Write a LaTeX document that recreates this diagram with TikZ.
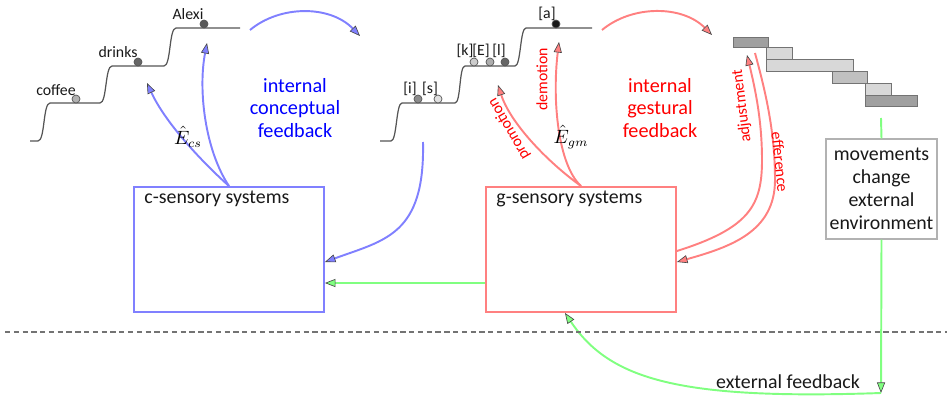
\documentclass[tikz,border=0pt]{standalone}
\usepackage{fontspec}
\setmainfont{Carlito}
\usetikzlibrary{arrows.meta,calc,positioning}
\definecolor{cStroke}{RGB}{128,128,255}
\definecolor{gStroke}{RGB}{255,128,128}
\definecolor{extStroke}{RGB}{128,255,128}
\definecolor{stairInk}{RGB}{85,85,85}
\definecolor{tipInk}{RGB}{70,70,70}
\definecolor{barDark}{RGB}{160,160,160}
\definecolor{barMid}{RGB}{192,192,192}
\definecolor{barLight}{RGB}{216,216,216}
\colorlet{ink}{black!90}
\tikzset{
  cTip/.style={-{Triangle[length=6pt,width=4.6pt,fill=cStroke,color=tipInk,line width=0.35pt]}},
  gTip/.style={-{Triangle[length=6pt,width=4.6pt,fill=gStroke,color=tipInk,line width=0.35pt]}},
  extTip/.style={-{Triangle[length=6pt,width=4.6pt,fill=extStroke,color=tipInk,line width=0.35pt]}},
  cArrow/.style={cTip, draw=cStroke, line width=1.1pt},
  gArrow/.style={gTip, draw=gStroke, line width=1.1pt},
  extArrow/.style={extTip, draw=extStroke, line width=1.1pt},
  extLine/.style={draw=extStroke, line width=1.1pt},
  stair/.style={draw=stairInk, line width=0.7pt},
  dot/.style={circle, draw=stairInk, line width=0.4pt, minimum size=0.16cm, inner sep=0pt},
  word/.style={font=\fontsize{9}{10}\selectfont, text=ink, inner sep=1pt},
  lbl/.style={font=\fontsize{11.3}{12.8}\selectfont, text=ink},
  sensbox/.style={draw, line width=1.1pt, minimum width=3.8cm, minimum height=2.5cm, inner sep=0pt},
  fbtext/.style={font=\fontsize{11.5}{12.8}\selectfont, align=center},
  tag/.style={font=\fontsize{9}{10}\selectfont, text=red, inner sep=1pt},
  bar/.style={draw=black!55, line width=0.5pt}
}

\begin{document}
\begin{tikzpicture}[x=0.02cm,y=-0.02cm]
  \useasboundingbox (0,0) rectangle (947,399);

  % conceptual staircase
  \draw[stair] (30,141) -- (38,141) .. controls (45,141) and (43,103) .. (50,103) -- (100,103)
    .. controls (107,103) and (105,66) .. (112,66) -- (164,66)
    .. controls (171,66) and (169,28) .. (176,28) -- (240,28);
  \node[dot, fill=black!30] (dCoffee) at (76,99) {};
  \node[dot, fill=black!60] (dDrinks) at (138,62) {};
  \node[dot, fill=black!65] (dAlexi) at (204,24) {};
  \node[word] (wCoffee) at (56,90) {coffee};
  \node[word] (wDrinks) at (118,52) {drinks};
  \node[word] (wAlexi) at (188,14) {Alexi};

  % gestural staircase
  \draw[stair] (380,141) -- (391,141) .. controls (397,141) and (396,103) .. (402,103) -- (455,103)
    .. controls (461,103) and (459,66) .. (465,66) -- (515,66)
    .. controls (521,66) and (520,28) .. (526,28) -- (592,28);
  \node[dot, fill=black!45] (dI) at (418,99) {};
  \node[dot, fill=black!12] (dS) at (438,99) {};
  \node[dot, fill=black!20] (dK) at (474,62) {};
  \node[dot, fill=black!32] (dE) at (490,62) {};
  \node[dot, fill=black!60] (dL) at (505,62) {};
  \node[dot, fill=black!90] (dA) at (556,24) {};
  \node[word] (wI) at (410,89) {[i]};
  \node[word] (wS) at (430,89) {[s]};
  \node[word] (wK) at (465,51) {[k]};
  \node[word] (wE) at (481,51) {[E]};
  \node[word] (wL) at (499,51) {[l]};
  \node[word] (wA) at (547,14) {[a]};

  % gestural score
  \foreach \xa/\ya/\xb/\yb/\shade in {733/37/768/47/barDark, 766/47/792/59/barLight,
      766/59/853/71/barLight, 832/71/867/83/barMid, 865/83/891/95/barLight, 865/95/917/106/barDark}{
    \draw[bar, fill=\shade] (\xa,\ya) rectangle (\xb,\yb);
  }

  % systems
  \node[sensbox, draw=cStroke] (csens) at (229,249.5) {};
  \node[lbl, anchor=base west, inner sep=0pt] (csensLbl) at ($(csens.north west)+(11,17)$) {c-sensory systems};
  \node[sensbox, draw=gStroke] (gsens) at (581,249.5) {};
  \node[lbl, anchor=base west, inner sep=0pt] (gsensLbl) at ($(gsens.north west)+(11,17)$) {g-sensory systems};
  \node[lbl, draw=black!30, line width=0.6pt, fill=white, align=center, minimum width=2.22cm,
    minimum height=2.0cm, inner sep=0pt, font=\fontsize{11.3}{13}\selectfont] (move) at (881.5,189)
    {movements\\change\\external\\environment};

  \node[fbtext, text=blue] (cfbText) at (295,108) {internal\\conceptual\\feedback};
  \node[fbtext, text=red] (gfbText) at (660,108) {internal\\gestural\\feedback};

  % free ends
  \coordinate (cfbStart) at (250,30);
  \coordinate (cfbEnd) at (360,36);
  \coordinate (gfbStart) at (602,30);
  \coordinate (gfbEnd) at (712,35);
  \coordinate (cDrinks) at (147,83);
  \coordinate (cAlexi) at (207,43);
  \coordinate (gProm) at (498,85);
  \coordinate (gDem) at (559,42);
  \coordinate (cBack) at (423,142);
  \coordinate (adjTip) at (747,55);
  \coordinate (effStart) at (755,53);
  \coordinate (scoreEnd) at (881,118);
  \coordinate (extCorner) at (881,393);
  \coordinate (dashL) at (5,332);
  \coordinate (dashR) at (947,332);

  % internal feedback loops
  \draw[cArrow] (cfbStart) .. controls (280,5) and (330,5) .. (cfbEnd);
  \draw[gArrow] (gfbStart) .. controls (632,5) and (682,5) .. (gfbEnd);
  \draw[cArrow] (csens.north) .. controls (200,160) and (165,122) .. (cDrinks);
  \draw[cArrow] (csens.north) .. controls (205,150) and (198,90) .. (cAlexi);
  \draw[cArrow] (cBack) .. controls (425,235) and (385,240) .. ($(csens.east)+(0,12.5)$);
  \draw[gArrow] (gsens.north) .. controls (545,160) and (510,122) .. (gProm);
  \draw[gArrow] (gsens.north) .. controls (558,165) and (552,100) .. (gDem);
  \draw[gArrow] ($(gsens.east)+(0,1.5)$) .. controls (750,228) and (762,205) .. (762,160)
    .. controls (762,120) and (755,88) .. (adjTip);
  \draw[gArrow] (effStart) .. controls (765,90) and (775,130) .. (775,180)
    .. controls (775,232) and (730,247) .. ($(gsens.east)+(0,12.5)$);

  \node[font=\fontsize{10.5}{12}\selectfont, inner sep=0pt] (ecs) at (188,137) {$\hat{E}_{cs}$};
  \node[font=\fontsize{10.5}{12}\selectfont, inner sep=0pt] (egm) at (571,137) {$\hat{E}_{gm}$};
  \node[tag, rotate=120] (promTag) at (509,129) {promotion};
  \node[tag, rotate=90] (demTag) at (542,79) {demotion};
  \node[tag, rotate=97] (adjTag) at (742,106) {adjustment};
  \node[tag, rotate=-84] (effTag) at (780,162) {efference};

  % external loop
  \draw[extArrow] ($(gsens.west)+(0,33.5)$) -- ($(csens.east)+(0,33.5)$);
  \draw[extLine] (scoreEnd) -- (move.north);
  \draw[extArrow] (move.south) -- (extCorner);
  \draw[extArrow] (extCorner) .. controls (680,400) and (610,380) .. ($(gsens.south)+(-16,0)$);
  \node[lbl] (extText) at (788,382) {external feedback};

  \draw[black!55, line width=0.6pt, dash pattern=on 3pt off 2pt] (dashL) -- (dashR);
\end{tikzpicture}
\end{document}
